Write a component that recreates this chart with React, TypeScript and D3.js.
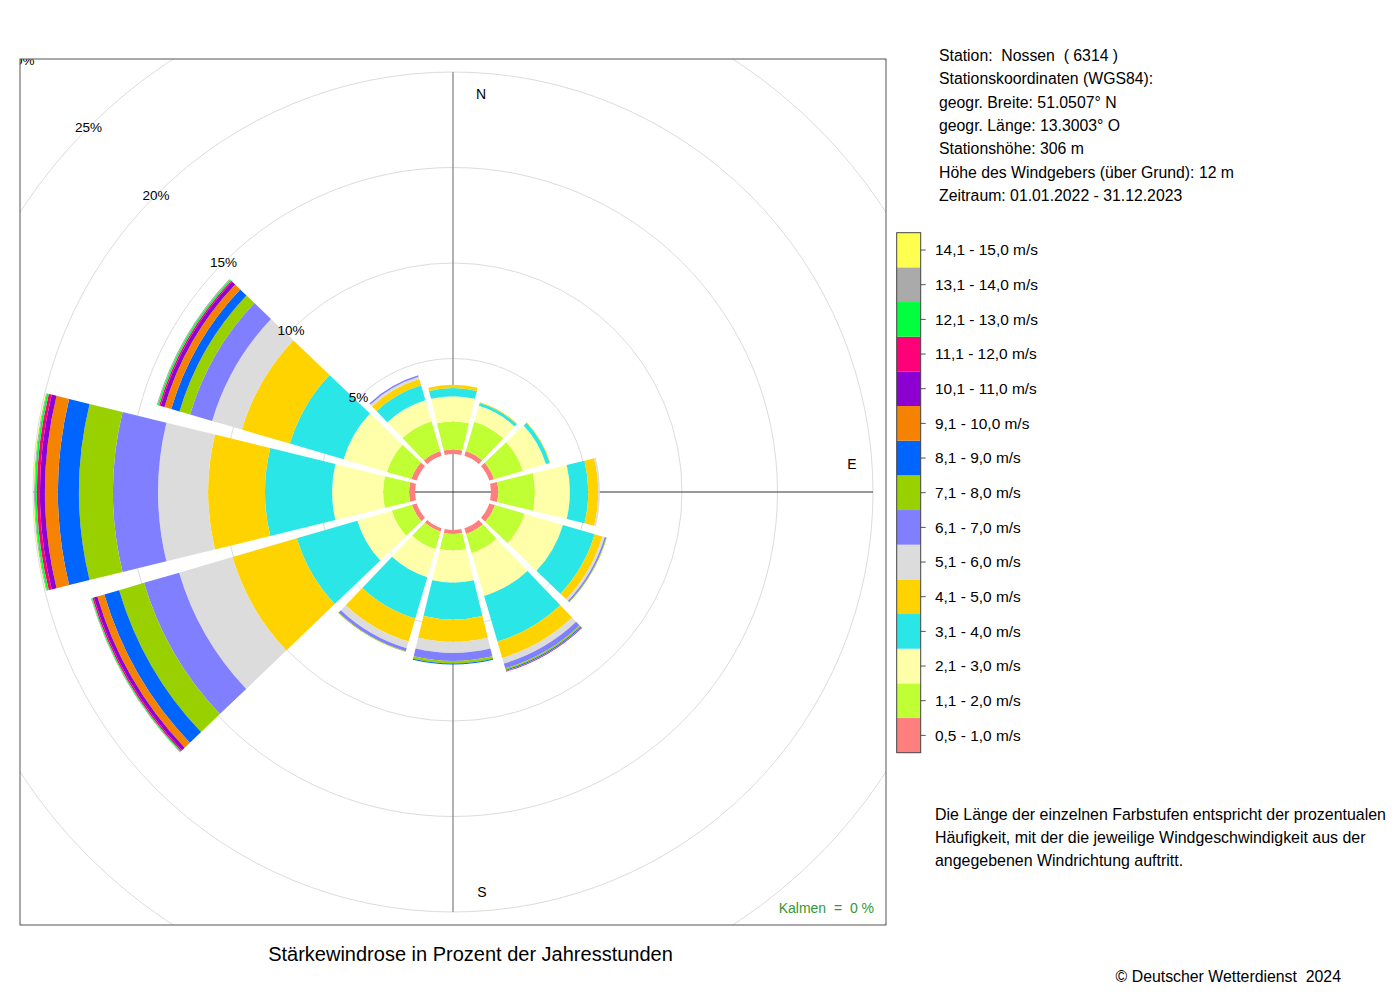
import React from "react";
import * as d3 from "d3";

// wind directions (degrees, clockwise from north)
const directions = [0, 30, 60, 90, 120, 150, 180, 210, 240, 270, 300, 330];

// speed classes, lowest first
const speedClasses = [
  "0,5 - 1,0 m/s",
  "1,1 - 2,0 m/s",
  "2,1 - 3,0 m/s",
  "3,1 - 4,0 m/s",
  "4,1 - 5,0 m/s",
  "5,1 - 6,0 m/s",
  "6,1 - 7,0 m/s",
  "7,1 - 8,0 m/s",
  "8,1 - 9,0 m/s",
  "9,1 - 10,0 m/s",
  "10,1 - 11,0 m/s",
  "11,1 - 12,0 m/s",
  "12,1 - 13,0 m/s",
  "13,1 - 14,0 m/s",
  "14,1 - 15,0 m/s",
];

const classColors = [
  "#FF7F7F", "#BFFF33", "#FFFFAA", "#2BE6E6", "#FFD300",
  "#DCDCDC", "#7F7FFF", "#99D100", "#0064FF", "#F58200",
  "#8C00D2", "#FF0078", "#00FF3C", "#AAAAAA", "#FFFF50",
];

// percent of hours per speed class, one array per direction
const dir000 = [0.24, 1.46, 1.32, 0.43, 0.17];
const dir030 = [0.26, 1.6, 0.86, 0.16, 0.04];
const dir060 = [0.26, 1.57, 1.26, 0.21, 0.03];
const dir090 = [0.38, 1.92, 1.83, 0.96, 0.52, 0.09];
const dir120 = [0.31, 1.62, 2.09, 1.73, 0.42, 0.13, 0.08, 0.03];
const dir150 = [0.31, 1.05, 2.33, 2.49, 0.89, 0.31, 0.26, 0.08, 0.05, 0.03, 0.02];
const dir180 = [0.21, 0.86, 1.69, 1.92, 1.17, 0.58, 0.42, 0.14, 0.05];
const dir210 = [0.18, 0.97, 1.52, 2.25, 1.26, 0.37, 0.16, 0.03];
const dir240 = [0.26, 1.1, 1.88, 3.3, 3.51, 2.91, 1.91, 1.36, 0.81, 0.38, 0.19, 0.08, 0.05, 0.03];
const dir270 = [0.31, 1.36, 2.67, 3.51, 2.98, 2.62, 2.36, 1.78, 1.1, 0.68, 0.26, 0.16, 0.1, 0.05, 0.03];
const dir300 = [0.29, 1.34, 2.36, 2.93, 2.62, 1.62, 1.2, 0.58, 0.45, 0.37, 0.21, 0.08, 0.08, 0.05];
const dir330 = [0.26, 1.62, 1.15, 0.81, 0.34, 0.13, 0.08];

const frequencies = [dir000, dir030, dir060, dir090, dir120, dir150, dir180, dir210, dir240, dir270, dir300, dir330];

const gridPercents = [5, 10, 15, 20, 25, 30];

const stationLines = [
  "Station:  Nossen  ( 6314 )",
  "Stationskoordinaten (WGS84):",
  "geogr. Breite: 51.0507° N",
  "geogr. Länge: 13.3003° O",
  "Stationshöhe: 306 m",
  "Höhe des Windgebers (über Grund): 12 m",
  "Zeitraum: 01.01.2022 - 31.12.2023",
];

const noteLines = [
  "Die Länge der einzelnen Farbstufen entspricht der prozentualen",
  "Häufigkeit, mit der die jeweilige Windgeschwindigkeit aus der",
  "angegebenen Windrichtung auftritt.",
];

const FONT = "'Liberation Sans', Arial, Helvetica, sans-serif";

interface Segment {
  inner: number;
  outer: number;
  start: number;
  end: number;
  color: string;
}

const App = () => {
  const cx = 453;
  const cy = 492;
  const frame = { x: 20, y: 59, size: 866 };

  const r = d3.scaleLinear().domain([0, 20]).range([38, 420]);

  const inset = 0.0218; // angular gap per side (rad)
  const half = Math.PI / 12 - inset;

  const arc = d3
    .arc<Segment>()
    .innerRadius((d) => d.inner)
    .outerRadius((d) => d.outer)
    .startAngle((d) => d.start)
    .endAngle((d) => d.end)
    .padAngle(0.02)
    .padRadius(80);

  const segments: Segment[] = [];
  directions.forEach((deg, i) => {
    const vals = frequencies[i];
    const cum = Array.from(d3.cumsum(vals));
    const a = (deg * Math.PI) / 180;
    vals.forEach((_, j) => {
      segments.push({
        inner: r(j === 0 ? 0 : cum[j - 1]),
        outer: r(cum[j]),
        start: a - half,
        end: a + half,
        color: classColors[j],
      });
    });
  });

  const axisR = r(20);

  // legend
  const legendY = d3
    .scaleBand<string>()
    .domain([...speedClasses].reverse())
    .range([232.7, 752.7]);
  const legendX = 896.7;
  const legendW = 24;

  const compass = [
    { t: "N", x: cx + 28, y: cy - 398 },
    { t: "E", x: cx + 399, y: cy - 28 },
    { t: "S", x: cx + 29, y: cy + 400 },
    { t: "W", x: cx - 400, y: cy - 28 },
  ];

  return (
    <svg
      width={1400}
      height={1000}
      style={{ position: "absolute", left: 0, top: 0, background: "#fff" }}
      fontFamily={FONT}
    >
      <defs>
        <clipPath id="frameClip">
          <rect x={frame.x} y={frame.y} width={frame.size} height={frame.size} />
        </clipPath>
      </defs>

      <g clipPath="url(#frameClip)">
        {gridPercents.map((p) => (
          <circle key={p} cx={cx} cy={cy} r={r(p)} fill="none" stroke="#DCDCDC" strokeWidth={1} />
        ))}
        <line x1={cx} x2={cx} y1={cy - axisR} y2={cy + axisR} stroke="#888" strokeWidth={1.3} />
        <line x1={cx - axisR} x2={cx + axisR} y1={cy} y2={cy} stroke="#333" strokeWidth={1} />
        {compass.map((c) => (
          <text key={c.t} x={c.x} y={c.y} dy="0.35em" textAnchor="middle" fontSize={14} fill="#000">
            {c.t}
          </text>
        ))}
        <g transform={`translate(${cx},${cy})`}>
          {segments.map((s, k) => (
            <path key={k} d={arc(s) || ""} fill={s.color} />
          ))}
        </g>
        {gridPercents.map((p) => {
          const rr = r(p);
          return (
            <text
              key={`l${p}`}
              x={cx - rr * Math.SQRT1_2}
              y={cy - rr * Math.SQRT1_2}
              dy="0.35em"
              textAnchor="middle"
              fontSize={13.5}
              fill="#000"
            >
              {`${p}%`}
            </text>
          );
        })}
        <text
          x={874}
          y={913}
          textAnchor="end"
          fontSize={14}
          fill="#339933"
          style={{ whiteSpace: "pre" }}
        >
          {"Kalmen  =  0 %"}
        </text>
      </g>
      <rect
        x={frame.x}
        y={frame.y}
        width={frame.size}
        height={frame.size}
        fill="none"
        stroke="#555"
        strokeWidth={1}
      />

      <text x={470.5} y={961} textAnchor="middle" fontSize={20} fill="#000">
        Stärkewindrose in Prozent der Jahresstunden
      </text>

      {stationLines.map((t, i) => (
        <text key={t} x={939} y={61 + i * 23.33} fontSize={15.8} fill="#000" style={{ whiteSpace: "pre" }}>
          {t}
        </text>
      ))}

      {speedClasses.map((c, i) => {
        const y = legendY(c) as number;
        const h = legendY.bandwidth();
        return (
          <g key={c}>
            <rect x={legendX} y={y} width={legendW} height={h} fill={classColors[i]} />
            <line
              x1={legendX + legendW}
              x2={legendX + legendW + 5}
              y1={y + h / 2}
              y2={y + h / 2}
              stroke="#555"
              strokeWidth={1}
            />
            <text x={935} y={y + h / 2} dy="0.35em" fontSize={15.45} fill="#000">
              {c}
            </text>
          </g>
        );
      })}
      <rect
        x={legendX}
        y={232.7}
        width={legendW}
        height={520}
        fill="none"
        stroke="#444"
        strokeWidth={1}
      />

      {noteLines.map((t, i) => (
        <text key={t} x={935} y={819.5 + i * 23} fontSize={15.95} fill="#000">
          {t}
        </text>
      ))}

      <text x={1341} y={981.5} textAnchor="end" fontSize={15.85} fill="#000" style={{ whiteSpace: "pre" }}>
        {"© Deutscher Wetterdienst  2024"}
      </text>
    </svg>
  );
};

export default App;
